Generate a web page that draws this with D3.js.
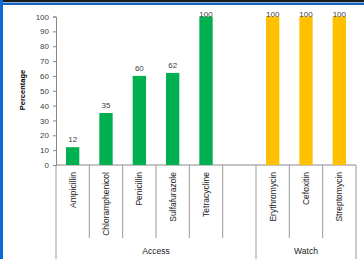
<!DOCTYPE html>
<html>
<head>
<meta charset="utf-8">
<script src="https://cdn.jsdelivr.net/npm/d3@7"></script>
<style>
  body { margin: 0; background: #fff; }
  svg { display: block; font-family: "Liberation Sans", Arial, sans-serif; }
</style>
</head>
<body>
<script>
// data
var categories = ["Ampicillin", "Chloramphenicol", "Penicillin", "Sulfafurazole", "Tetracycline", "",
                  "Erythromycin", "Cefoxitin", "Streptomycin"];
var values = [12, 35, 60, 62, 100, null, 100, 100, 100];
var groupOf = ["Access", "Access", "Access", "Access", "Access", "Access", "Watch", "Watch", "Watch"];
var groups = ["Access", "Watch"];
var yTicks = [0, 10, 20, 30, 40, 50, 60, 70, 80, 90, 100];

var width = 364, height = 259;
var plotLeft = 56, plotRight = 356, plotTop = 16.5, plotBottom = 165;

var svg = d3.select("body").append("svg")
    .attr("width", width)
    .attr("height", height);

// window frame bits
svg.append("rect").attr("x", 0).attr("y", 0).attr("width", width).attr("height", 2).attr("fill", "#1a1a1a");
svg.append("rect").attr("x", 3).attr("y", 2.5).attr("width", width).attr("height", 2.5).attr("fill", "#1565c0");
svg.append("rect").attr("x", 0).attr("y", 0).attr("width", 3).attr("height", height).attr("fill", "#0a6ad6");

var keys = categories.map(function(c, i) { return i; });

var x = d3.scaleBand()
    .domain(keys)
    .range([plotLeft, plotRight])
    .paddingInner(0.6)
    .paddingOuter(0.3);

var y = d3.scaleLinear()
    .domain([0, 100])
    .range([plotBottom, plotTop]);

var yAxis = d3.axisLeft(y)
    .tickValues(yTicks)
    .tickSize(3)
    .tickPadding(4);

var gy = svg.append("g")
    .attr("transform", "translate(" + plotLeft + ",0)")
    .call(yAxis);
gy.select(".domain").attr("stroke", "#888");
gy.selectAll(".tick line").attr("stroke", "#888");
gy.selectAll(".tick text")
    .attr("fill", "#404040")
    .style("font-size", "8px");

svg.append("text")
    .attr("transform", "translate(25,90) rotate(-90)")
    .attr("text-anchor", "middle")
    .style("font-size", "7.5px")
    .style("font-weight", "bold")
    .attr("fill", "#000")
    .text("Percentage");

// baseline
svg.append("line")
    .attr("x1", plotLeft).attr("x2", plotRight)
    .attr("y1", plotBottom).attr("y2", plotBottom)
    .attr("stroke", "#888");

// bars
var bars = keys.filter(function(i) { return values[i] != null; });

svg.selectAll(".bar")
    .data(bars)
  .enter().append("rect")
    .attr("class", "bar")
    .attr("x", function(i) { return x(i); })
    .attr("width", x.bandwidth())
    .attr("y", function(i) { return y(values[i]); })
    .attr("height", function(i) { return plotBottom - y(values[i]); })
    .attr("fill", function(i) { return groupOf[i] == "Access" ? "#00b050" : "#ffc000"; });

svg.selectAll(".val")
    .data(bars)
  .enter().append("text")
    .attr("class", "val")
    .attr("x", function(i) { return x(i) + x.bandwidth() / 2; })
    .attr("y", function(i) { return Math.max(y(values[i]) - 5, 17); })
    .attr("text-anchor", "middle")
    .attr("fill", "#404040")
    .style("font-size", "8px")
    .text(function(i) { return values[i]; });

// category labels
var half = (x.step() - x.bandwidth()) / 2;

svg.selectAll(".cat")
    .data(keys)
  .enter().append("text")
    .attr("class", "cat")
    .attr("transform", function(i) {
      return "translate(" + (x(i) + x.bandwidth() / 2 + 3) + ",172) rotate(-90)";
    })
    .attr("text-anchor", "end")
    .attr("fill", "#222")
    .style("font-size", "8.5px")
    .text(function(i) { return categories[i]; });

// separators between categories
var edges = keys.map(function(i) { return x(i) - half; });
edges.push(x(keys[keys.length - 1]) + x.bandwidth() + half);

svg.selectAll(".sep")
    .data(edges)
  .enter().append("line")
    .attr("class", "sep")
    .attr("x1", function(d) { return d; })
    .attr("x2", function(d) { return d; })
    .attr("y1", plotBottom)
    .attr("y2", function(d, i) {
      var isGroupEdge = i == 0 || i == edges.length - 1 || groupOf[i] != groupOf[i - 1];
      return isGroupEdge ? height : 238;
    })
    .attr("stroke", "#999");

// group labels
svg.selectAll(".grp")
    .data(groups)
  .enter().append("text")
    .attr("class", "grp")
    .attr("x", function(g) {
      var idx = keys.filter(function(i) { return groupOf[i] == g; });
      var a = x(idx[0]) - half, b = x(idx[idx.length - 1]) + x.bandwidth() + half;
      return (a + b) / 2;
    })
    .attr("y", 254)
    .attr("text-anchor", "middle")
    .attr("fill", "#222")
    .style("font-size", "8.5px")
    .text(function(g) { return g; });
</script>
</body>
</html>
